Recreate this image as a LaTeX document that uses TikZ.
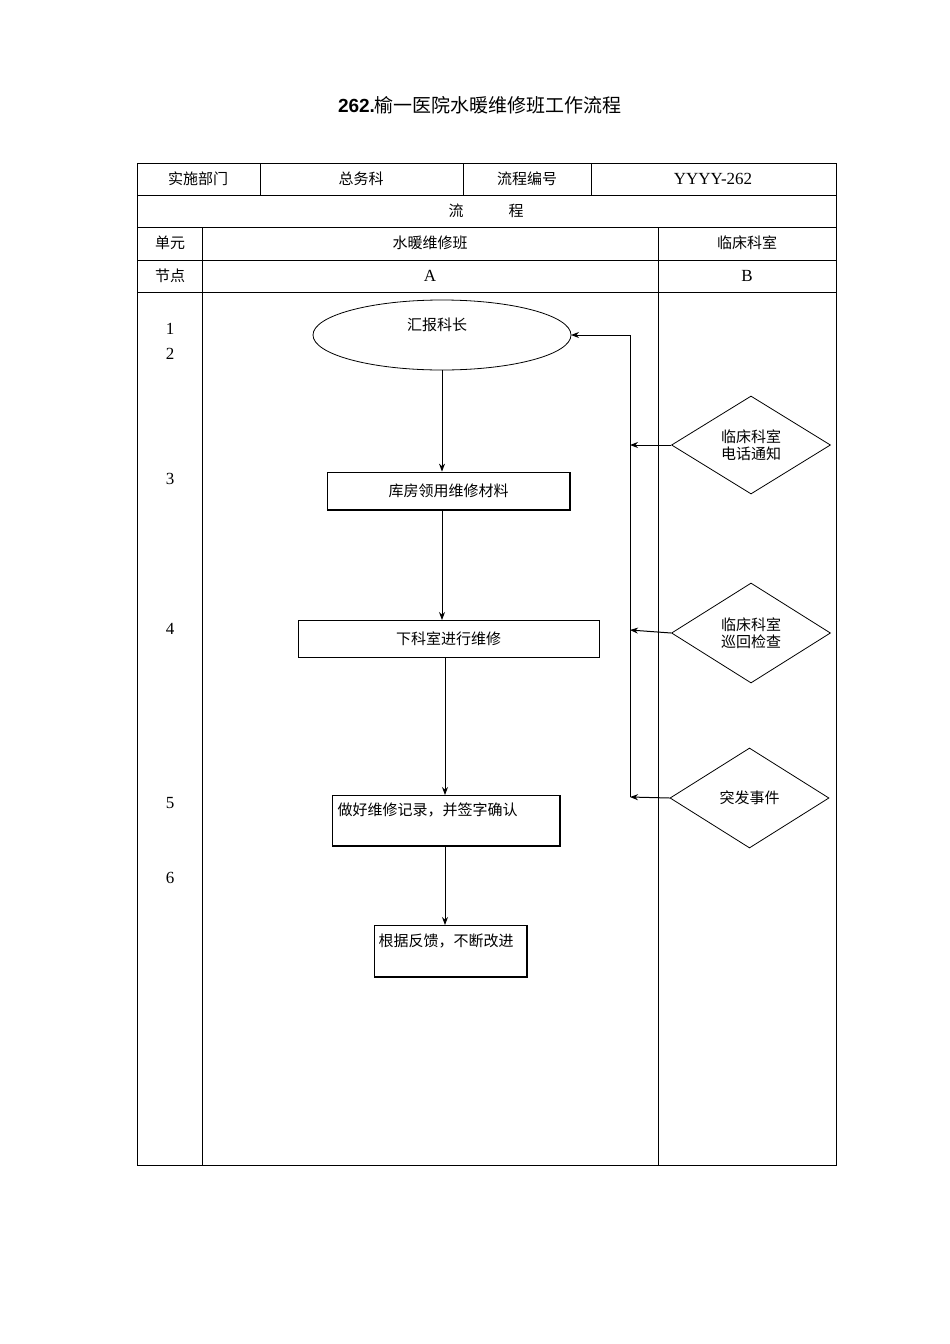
\documentclass[tikz,border=0pt]{standalone}
\usepackage{fontspec}
\setmainfont{Liberation Serif}
\newfontfamily\cjk{Noto Sans CJK SC}
\usetikzlibrary{shapes.geometric,arrows.meta}
\begin{document}
\begin{tikzpicture}[x=1pt,y=-1pt,
  ln/.style={line width=0.8pt},
  box/.style={draw,line width=0.8pt,minimum height=0pt,inner sep=0pt},
  arr/.style={line width=1pt,-{Stealth[length=8pt,width=6pt]}},
  txt/.style={font=\cjk\fontsize{15}{17}\selectfont},
  ttx/.style={font=\fontsize{17}{19}\selectfont}]
\fill[white] (0,0) rectangle (950,1344);
\node[font=\fontsize{19}{22}\selectfont] (title) at (480,105) {\textbf{\fontspec{Liberation Sans}262.}\cjk 榆一医院水暖维修班工作流程};
% table
\draw[ln] (137,163) rectangle (836,1165);
\foreach \y in {195,227,260,292} \draw[ln] (137,\y) -- (836,\y);
\foreach \x in {260,463,591} \draw[ln] (\x,163) -- (\x,195);
\draw[ln] (202,227) -- (202,1165);
\draw[ln] (658,227) -- (658,1165);
\node[txt] (h1) at (198,179) {实施部门};
\node[txt] (h2) at (361,179) {总务科};
\node[txt] (h3) at (527,179) {流程编号};
\node[ttx] (h4) at (713,179) {YYYY-262};
\node[txt] (lc) at (486,211) {流\hspace{3em}程};
\node[txt] (u1) at (170,243) {单元};
\node[txt] (u2) at (430,243) {水暖维修班};
\node[txt] (u3) at (747,243) {临床科室};
\node[txt] (n1) at (170,276) {节点};
\node[ttx] (n2) at (430,276) {A};
\node[ttx] (n3) at (747,276) {B};
\foreach \n/\y in {1/329,2/354,3/479,4/629,5/803,6/878}
  \node[ttx] (num\n) at (170,\y) {\n};
% shapes
\draw[ln] (442,335) ellipse (129 and 35);
\coordinate (elT) at (442,300); \coordinate (elB) at (442,370); \coordinate (elR) at (571,335);
\node[txt] (e) at (437,325) {汇报科长};
\node[box,minimum width=243pt,minimum height=38pt,txt] (b1) at (448.5,491) {库房领用维修材料};
\draw[line width=1.6pt] (570,472) -- (570,510) -- (327,510);
\node[box,minimum width=301pt,minimum height=37pt,txt] (b2) at (448.5,638.5) {下科室进行维修};
\node[box,minimum width=228pt,minimum height=51pt] (b3) at (446,820.5) {};
\draw[line width=1.6pt] (560,795) -- (560,846) -- (332,846);
\node[txt,anchor=north west] (b3t) at (334,799) {做好维修记录，并签字确认};
\node[box,minimum width=153pt,minimum height=52pt] (b4) at (450.5,951) {};
\draw[line width=1.6pt] (527,925) -- (527,977) -- (374,977);
\node[txt,anchor=north west] (b4t) at (375,930) {根据反馈，不断改进};
\node[draw,diamond,ln,minimum width=159pt,minimum height=98pt,aspect=1.6,inner sep=0pt,txt,align=center] (d1) at (751,445) {临床科室\\电话通知};
\node[draw,diamond,ln,minimum width=159pt,minimum height=100pt,aspect=1.6,inner sep=0pt,txt,align=center] (d2) at (751,633) {临床科室\\巡回检查};
\node[draw,diamond,ln,minimum width=159pt,minimum height=100pt,aspect=1.6,inner sep=0pt,txt] (d3) at (749.5,798) {突发事件};
% connectors
\coordinate (vt) at (630,335); \coordinate (vb) at (630,797);
\draw[ln] (vb) -- (vt);
\draw[arr] (vt) -- (elR);
\draw[arr] (d1.west) -- (630,445);
\draw[arr] (d2.west) -- (630,630);
\draw[arr] (d3.west) -- (vb);
\draw[arr] (elB) -- (b1.north -| elB);
\draw[arr] (442,510) -- (442,620);
\draw[arr] (445,657) -- (445,795);
\draw[arr] (445,846) -- (445,925);
\end{tikzpicture}
\end{document}
